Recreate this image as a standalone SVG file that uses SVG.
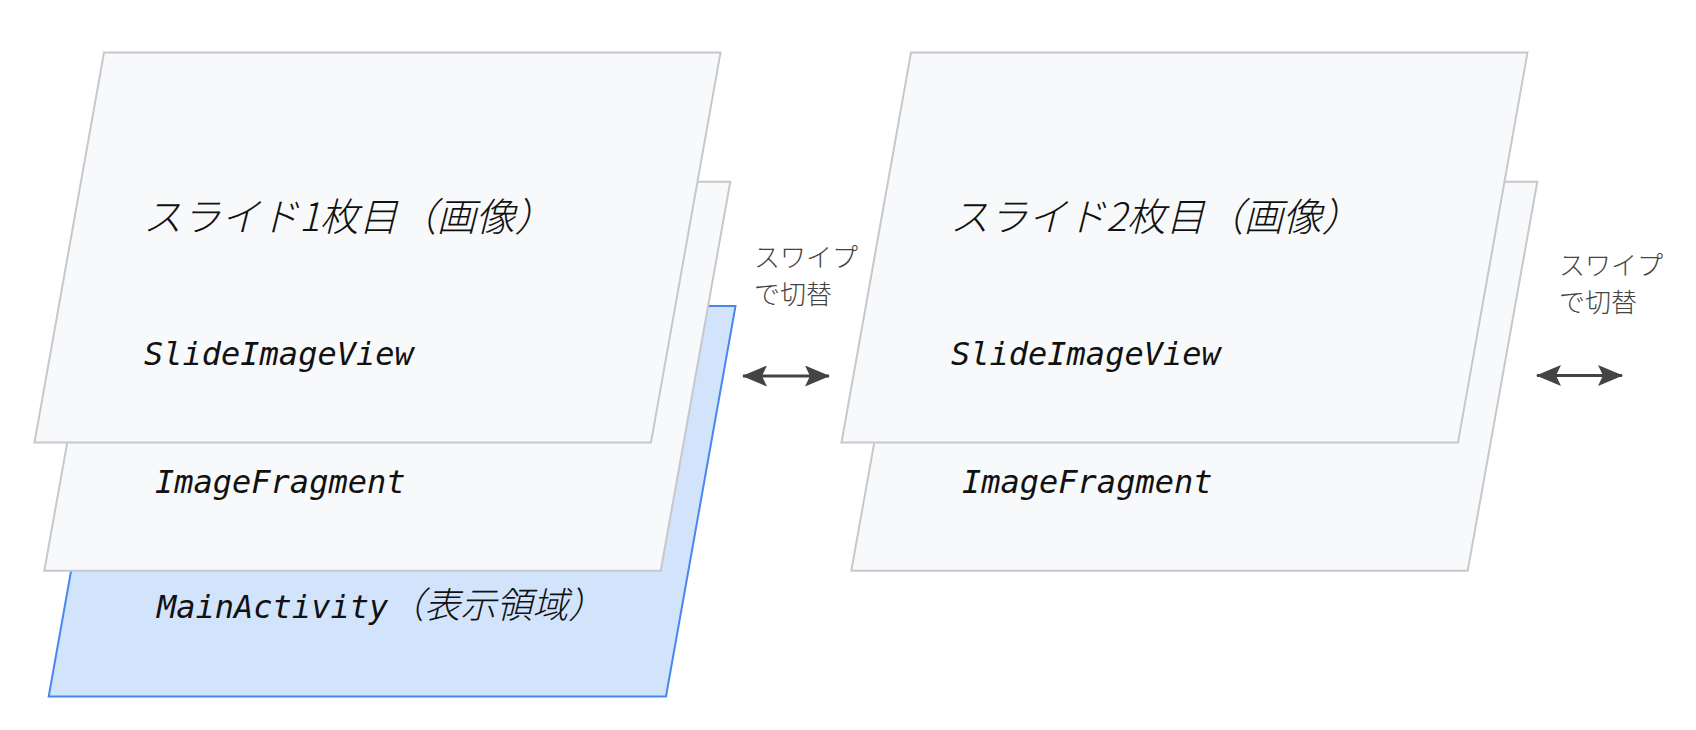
<svg xmlns="http://www.w3.org/2000/svg" width="1696" height="730" viewBox="0 0 1696 730">
<defs>
<style>
.pane{fill:#f8f9fa;stroke:#c6c8cc;stroke-width:2;stroke-linejoin:miter}
.blue{fill:#d2e3fc;stroke:#4a86f0;stroke-width:2}
.mono{font-family:"DejaVu Sans Mono","Liberation Mono",monospace;font-style:italic;font-size:32px;fill:#111}
.title{font-family:"Noto Sans CJK JP","Noto Sans",sans-serif;font-style:italic;font-weight:300;font-size:39px;fill:#111}
.cjk{font-family:"Noto Sans CJK JP",sans-serif;font-style:italic;font-weight:300;font-size:36px}
.lbl{font-family:"Noto Sans CJK JP","Noto Sans",sans-serif;font-weight:300;font-size:26px;fill:#444}
.arr{stroke:#444;stroke-width:3;fill:none;marker-start:url(#ah);marker-end:url(#ah)}
</style>
<marker id="ah" viewBox="0 0 25 21" refX="24" refY="10.5" markerWidth="25" markerHeight="21" markerUnits="userSpaceOnUse" orient="auto-start-reverse">
<path d="M0,0 L25,10.5 L0,21 L5,10.5 z" fill="#444"/>
</marker>
</defs>
<rect width="1696" height="730" fill="#ffffff"/>
<g id="main-activity">
<polygon class="blue" points="118.2,306 735.5,306 666,696.5 48.7,696.5"/>
<text class="mono" x="157" y="618">MainActivity<tspan class="cjk">（表示領域）</tspan></text>
</g>
<g id="image-fragment-1">
<polygon class="pane" points="114,181.7 730.3,181.7 660.7,570.8 44.3,570.8"/>
<text class="mono" x="155" y="493">ImageFragment</text>
</g>
<g id="slide-1">
<polygon class="pane" points="104,52.5 720.5,52.5 651,442.5 34.5,442.5"/>
<text class="title" x="143" y="231">スライド1枚目（画像）</text>
<text class="mono" x="144" y="365">SlideImageView</text>
</g>
<g id="image-fragment-2">
<polygon class="pane" points="921,181.7 1537.3,181.7 1467.7,570.8 851.3,570.8"/>
<text class="mono" x="962" y="493">ImageFragment</text>
</g>
<g id="slide-2">
<polygon class="pane" points="911,52.5 1527.5,52.5 1458,442.5 841.5,442.5"/>
<text class="title" x="950" y="231">スライド2枚目（画像）</text>
<text class="mono" x="951" y="365">SlideImageView</text>
</g>
<g id="connectors">
<line class="arr" x1="743" y1="376" x2="829" y2="376"/>
<line class="arr" x1="1537" y1="375.5" x2="1622" y2="375.5"/>
</g>
<g id="labels">
<text class="lbl" x="754" y="267">スワイプ<tspan x="754" y="304">で切替</tspan></text>
<text class="lbl" x="1559" y="275">スワイプ<tspan x="1559" y="312">で切替</tspan></text>
</g>
</svg>
